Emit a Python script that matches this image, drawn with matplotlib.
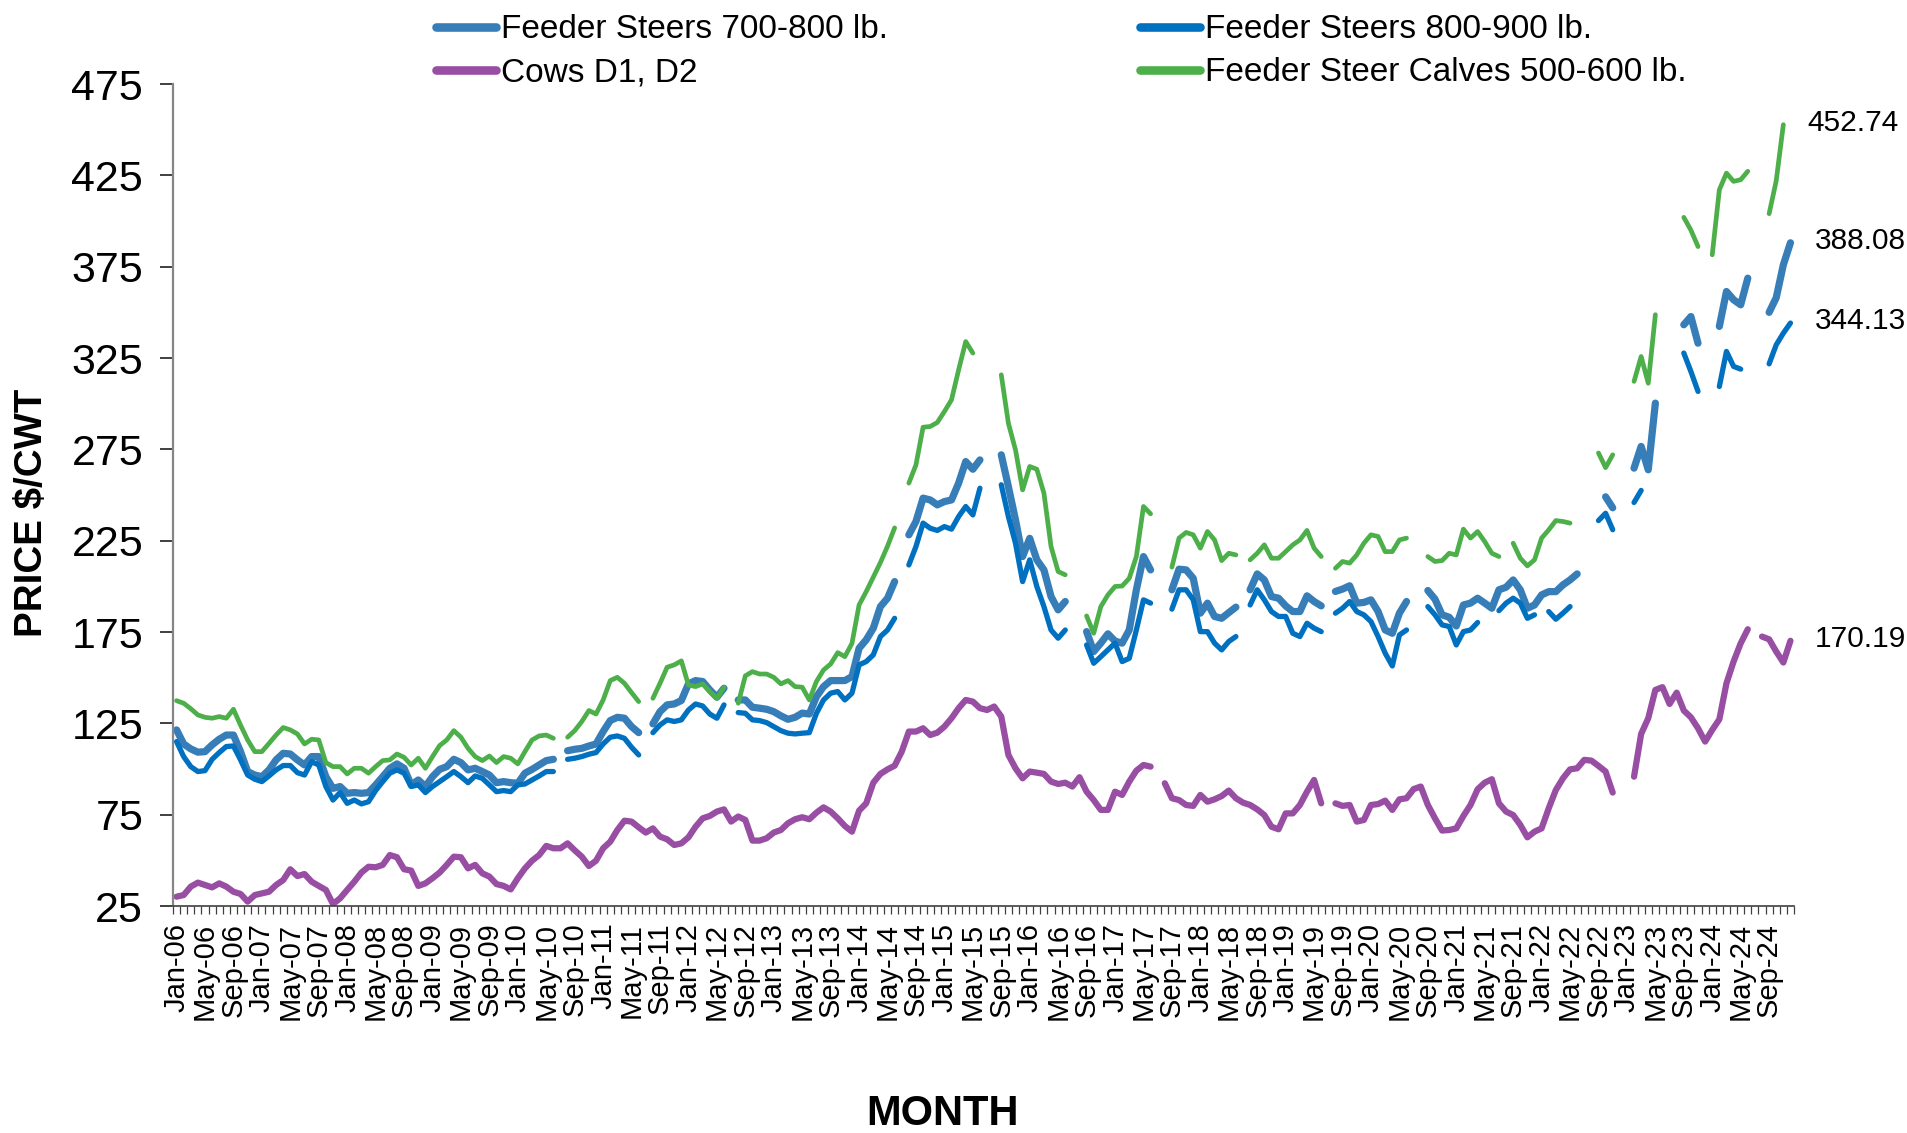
import numpy as np
import pandas as pd
import matplotlib
matplotlib.use('Agg')
import matplotlib.pyplot as plt

nan = np.nan

# Monthly prices ($/cwt), Jan-06 .. Dec-24, one row per year. nan = no report that month.
steers_700_800 = [
    121.4, 113.7, 111, 109.2, 109.5, 113.2, 116.3, 118.6, 118.6, 109.5, 98.6, 96.7,
    95.8, 99.5, 105, 108.6, 108.2, 105, 102.2, 106.8, 106.8, 95.8, 89.4, 90.4,
    86.7, 87.1, 86.7, 87.1, 91.3, 95.8, 100.4, 102.8, 100.4, 91.3, 94, 90.4,
    95.8, 99.8, 101.3, 105.3, 103.5, 99.5, 100.4, 98.6, 96.7, 92.5, 93.1, 92.5,
    92.2, 97.7, 99.8, 102.2, 104.6, 105.3, nan, 110, 110.8, 111.3, 112.6, 113.7,
    120.5, 126.5, 128.3, 127.8, 123.2, 119.9, nan, 124.7, 131.4, 135.1, 135.6, 137.5,
    146.6, 148.4, 147.9, 143.3, 139.3, 144.2, nan, 137.8, 137.8, 133.8, 133.3, 132.7,
    131.4, 129.1, 127.2, 128.3, 130.6, 130.1, 139.6, 145.1, 148.4, 148.4, 148.4, 150.6,
    166.1, 170.7, 177.1, 188.9, 193.5, 202.6, nan, 228.2, 235.5, 248.3, 247.3, 244.6,
    246.4, 247.3, 256.5, 268.3, 264.1, 269.2, nan, nan, 272, 254.6, 236.4, 216.3,
    226.3, 214.5, 209, 194.4, 187.1, 191.7, nan, nan, 175.2, 164.3, 168.9, 174,
    170, 168.9, 176.1, 198.1, 216.3, 209, nan, nan, 198.1, 209.4, 209, 204.4,
    185.3, 190.8, 183.5, 182.5, 185.6, 188.6, nan, 198.1, 206.8, 203.5, 194.4, 193.5,
    189.3, 186.2, 186.2, 194.8, 191.7, 189.3, nan, 197.2, 198.5, 200.3, 190.8, 191.2,
    192.6, 186.2, 176.1, 174.3, 185.3, 191.7, nan, nan, 197.7, 193, 184.4, 183.1,
    178.3, 189.8, 190.8, 193.5, 190.8, 188, 198.1, 199.5, 203.5, 198.1, 188, 189.8,
    195.3, 197.1, 197.1, 200.8, 203.5, 206.8, nan, nan, nan, 249, 243, nan,
    nan, 264.7, 276.6, 263.8, 300.3, nan, nan, nan, 343.2, 347.7, 333.1, nan,
    nan, 342.3, 361.4, 356.9, 354.1, 368.7, nan, nan, 350, 358, 376, 388.08,
]
steers_800_900 = [
    115, 106.8, 101.3, 98.6, 99.1, 105.3, 109, 112.3, 112.6, 105, 96.7, 94.4,
    93.1, 96.2, 99.5, 101.9, 101.9, 98, 96.7, 104, 102.2, 90.4, 83, 87.1,
    81.2, 83, 80.9, 82.1, 88.2, 93.1, 97.7, 99.5, 97.7, 90.4, 91.3, 87.1,
    90.4, 93.1, 95.8, 98.6, 95.8, 92.5, 96.2, 94.9, 91.3, 87.6, 88.2, 87.6,
    91.3, 91.8, 94, 96.2, 98.6, 98.6, nan, 105.3, 105.9, 106.8, 108.1, 109,
    113.7, 117.4, 118.1, 116.8, 111.9, 107.7, nan, 119.9, 124.1, 126.9, 126, 126.9,
    132.3, 135.6, 134.5, 130.1, 127.8, 135.1, nan, 130.9, 130.5, 126.9, 126.5, 125.4,
    123.2, 121, 119.6, 119.2, 119.6, 119.9, 130.5, 137.8, 141.5, 142.4, 137.8, 141.5,
    157, 158.8, 162.5, 172.5, 176.1, 182.5, nan, 211.7, 221.8, 234.6, 231.8, 230.6,
    232.7, 231.3, 238.2, 243.7, 239.1, 253.7, nan, nan, 255.6, 238.2, 223.6, 202.6,
    214.5, 199.9, 188.9, 176.1, 171.6, 176.1, nan, nan, 167.9, 157.9, 161.5, 165.2,
    168.9, 158.8, 160.6, 176.1, 192.6, 190.8, nan, nan, 187.5, 198.1, 198.1, 192.6,
    175.2, 175.2, 168.9, 165.2, 169.8, 172.5, nan, 189.8, 198.1, 192.6, 186.2, 183.5,
    183.5, 174.3, 172.5, 179.8, 177.1, 175.2, nan, 185.3, 188, 191.7, 186.2, 184.4,
    180.7, 172.5, 163.4, 156.4, 173.4, 176.1, nan, nan, 188.9, 184.4, 178.9, 178,
    167.9, 175.2, 176.1, 180.2, nan, nan, 186.7, 190.8, 193.5, 190.8, 182.5, 184.4,
    nan, 186.2, 182, 185.3, 188.9, nan, nan, nan, 236, 240, 231, nan,
    nan, 245.9, 252.5, nan, nan, nan, nan, nan, 327.7, 317.6, 306.7, nan,
    nan, 309.4, 328.6, 320.4, 318.9, nan, nan, nan, 321.8, 332.2, 338.6, 344.13,
]
cows_d1_d2 = [
    30.1, 31, 35.6, 37.8, 36.5, 35.2, 37.4, 35.6, 32.8, 31.6, 27.4, 31,
    31.9, 32.8, 36.5, 39.2, 45.1, 41.4, 42.5, 38.3, 36, 33.8, 26.1, 29.2,
    33.8, 38.3, 43.3, 46.5, 46.2, 47.5, 52.9, 51.7, 45.1, 44.4, 36, 37.4,
    40.2, 43.3, 47.5, 52, 51.7, 45.6, 47.5, 42.9, 41.1, 37, 36, 34.1,
    40.2, 45.6, 49.8, 52.9, 57.9, 56.6, 56.6, 59.3, 55.5, 52, 46.9, 49.8,
    56.6, 60.2, 66.6, 71.7, 71.2, 68.1, 65.2, 67.5, 63, 61.5, 58.4, 59.3,
    62.6, 68.4, 73, 74.3, 76.7, 77.9, 71.2, 74, 72.1, 60.8, 60.8, 62.1,
    65.2, 66.6, 70.3, 72.5, 73.6, 72.5, 76.1, 79, 76.7, 73, 68.8, 65.7,
    77.2, 81.2, 92.5, 97.3, 99.8, 101.8, 109.5, 120.5, 120.5, 122.3, 118.6, 119.9,
    123.2, 127.8, 133.3, 137.8, 136.9, 133.3, 132.3, 134.2, 128.7, 107.7, 100.4, 94.9,
    98.6, 98, 97.3, 93.1, 91.8, 92.5, 90.4, 95.5, 87.6, 83, 77.6, 77.6,
    87.6, 85.8, 93.1, 99.1, 102.2, 101.3, nan, 92.2, 84, 83, 80.3, 79.8,
    85.8, 82.1, 83.4, 85.2, 88.2, 84, 81.6, 80.3, 77.9, 74.8, 68.4, 67,
    75.7, 75.7, 80.3, 87.6, 94, 81.2, nan, 81.2, 79.8, 80.3, 71.2, 72.1,
    80.3, 80.8, 82.7, 77.6, 83.4, 84, 89, 90.4, 80.3, 73, 66.3, 66.6,
    67.5, 74.3, 80.3, 88.9, 92.5, 94.4, 81.2, 76.7, 74.8, 69.4, 62.6, 65.7,
    67.5, 78.5, 88.5, 94.9, 99.8, 100.4, 105, 104.6, 101.7, 98.6, 87.1, nan,
    nan, 95.8, 119.2, 127.8, 143.3, 144.8, 135.6, 141.8, 132, 128.3, 122.3, 115,
    121.4, 127.2, 146.9, 158.8, 168.8, 176.5, nan, 172.5, 171, 164.3, 158.3, 170.19,
]
calves_500_600 = [
    137.4, 136, 133, 129.6, 128.3, 127.8, 128.7, 127.8, 132.7, 124, 115.9, 109.5,
    109.5, 114, 118.6, 122.7, 121.4, 119.2, 113.7, 116.3, 115.9, 103.5, 101.3, 101.3,
    97.3, 100.4, 100.4, 97.7, 101.3, 104.6, 105, 108.2, 106.4, 102.2, 105.9, 100.4,
    106.8, 112.8, 115.9, 121, 117.4, 111.3, 106.8, 104.6, 107.1, 103.5, 106.8, 105.9,
    102.8, 109.5, 115.9, 118.1, 118.6, 116.8, nan, 117.4, 121, 126, 132, 130.1,
    137.8, 148.4, 150.2, 146.9, 141.8, 136.9, nan, 138.7, 146.9, 155.7, 157, 159.2,
    146, 145.1, 146.6, 142.4, 138.7, 144.8, nan, 136, 151, 153.3, 152, 152,
    150.2, 146.6, 148.4, 145.1, 144.8, 137.8, 147.9, 154.2, 157.5, 163.7, 161.5, 168.8,
    189.8, 197.1, 205, 213, 222, 232, nan, 256.5, 266.5, 287.1, 287.5, 289.7,
    295.7, 302.1, 318.5, 334, 327.7, nan, nan, nan, 315.8, 289.3, 274.7, 252.8,
    265.6, 264.1, 251, 221.8, 208.1, 206.3, nan, nan, 183.8, 174.3, 188.9, 195.3,
    199.9, 200.2, 204.4, 216.3, 243.7, 239.7, nan, nan, 210.5, 226.4, 229.5, 228.2,
    220.9, 230, 225.4, 214.1, 218.1, 217.2, nan, 214.5, 218.1, 222.7, 215.4, 215.4,
    219, 222.7, 225.4, 230.6, 220.9, 216.3, nan, 209.9, 213.6, 212.7, 217.2, 223.6,
    228.2, 227.3, 219, 219, 225.4, 226.4, nan, nan, 216.3, 213.6, 214.1, 218.1,
    217.2, 231.3, 226.4, 230, 224.5, 218.1, 216.3, nan, 223.6, 215.4, 211.2, 214.5,
    226.4, 230.9, 236, 235.5, 234.6, nan, nan, nan, 273, 265, 272, nan,
    nan, 312.2, 325.8, 311.2, 348.7, nan, nan, nan, 402, 395, 386, nan,
    381.5, 417.1, 426.2, 421.7, 422.6, 427.2, nan, nan, 404, 422, 452.74, nan,
]

y_ticks = [25, 75, 125, 175, 225, 275, 325, 375, 425, 475]

months = pd.date_range('2006-01-01', periods=len(cows_d1_d2), freq='MS')
month_labels = [m.strftime('%b-%y') for m in months]

plt.rcParams['font.family'] = ['Liberation Sans', 'DejaVu Sans']

W, H = 1908, 1133
fig = plt.figure(figsize=(W / 100, H / 100), dpi=100)
ax = fig.add_axes([173 / W, 1 - 906 / H, (1794 - 173) / W, (906 - 84) / H])

x = np.arange(len(months))
kw = dict(solid_capstyle='round', solid_joinstyle='round')
# same drawing order as the source workbook
l1, = ax.plot(x, steers_700_800, color='#377EB8', lw=5.2, label='Feeder Steers 700-800 lb.', **kw)
l2, = ax.plot(x, steers_800_900, color='#0070C0', lw=3.8, label='Feeder Steers 800-900 lb.', **kw)
l3, = ax.plot(x, cows_d1_d2, color='#984EA3', lw=4.5, label='Cows D1, D2', **kw)
l4, = ax.plot(x, calves_500_600, color='#4DAF4A', lw=3.4, label='Feeder Steer Calves 500-600 lb.', **kw)

ax.set_xlim(-0.5, len(x) - 0.5)
ax.set_ylim(y_ticks[0], y_ticks[-1])
ax.set_yticks(y_ticks)
ax.tick_params(axis='y', length=9.5, width=1.2, labelsize=31, pad=12, color='#202020')

ax.set_xticks(x[::4])
ax.set_xticklabels(month_labels[::4], rotation=90, fontsize=21)
ax.set_xticks(np.arange(-0.5, len(x)), minor=True)
ax.tick_params(axis='x', which='major', length=0, pad=12)
ax.tick_params(axis='x', which='minor', length=6, width=0.9, color='#404040')

for side in ['top', 'right']:
    ax.spines[side].set_visible(False)
ax.spines['left'].set_color('#868686')
ax.spines['left'].set_linewidth(1.6)
ax.spines['bottom'].set_color('#404040')
ax.spines['bottom'].set_linewidth(1.2)

# end-of-series value labels
for line in [l4, l1, l2, l3]:
    ys = np.asarray(line.get_ydata(), dtype=float)
    last = np.where(~np.isnan(ys))[0][-1]
    ax.annotate(f'{ys[last]:.2f}', xy=(last, ys[last]), xytext=(17.3, 1.5),
                textcoords='offset points', fontsize=21.5, ha='left', va='center',
                annotation_clip=False)

fig.text(32 / W, 1 - 513 / H, 'PRICE $/CWT', rotation=90, fontsize=27.7,
         fontweight='bold', ha='center', va='center')
fig.text(943 / W, 1 - 1114 / H, 'MONTH', fontsize=30, fontweight='bold',
         ha='center', va='center')

leg = fig.legend(handles=[l1, l3, l2, l4], loc='upper left',
                 bbox_to_anchor=(436 / W, 1 - 14.5 / H), ncol=2, frameon=False,
                 fontsize=24, handlelength=1.8, handletextpad=0.15,
                 columnspacing=7.55, labelspacing=0.35, borderpad=0, borderaxespad=0)
for h in leg.get_lines():
    h.set_linewidth(6.2)
    h.set_solid_capstyle('round')

fig.savefig('out.png', dpi=100)
